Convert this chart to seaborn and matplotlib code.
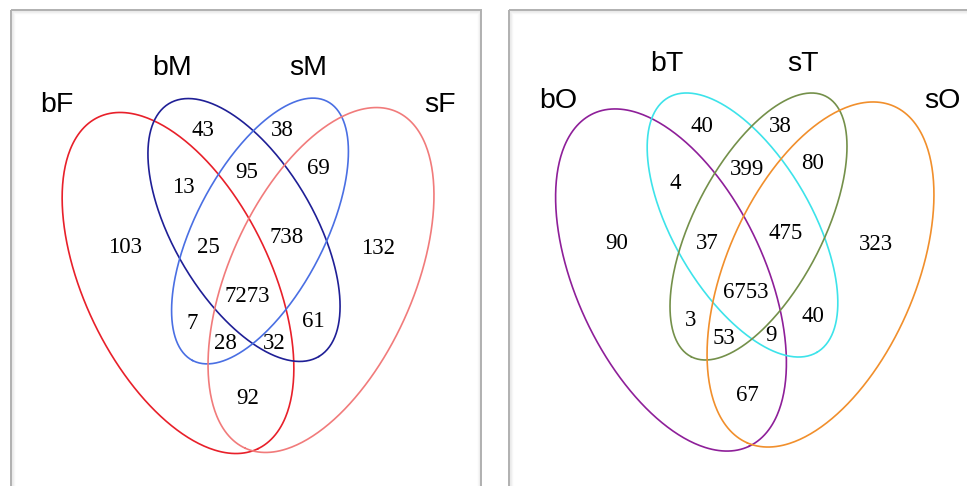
import numpy as np
import pandas as pd
import matplotlib
matplotlib.use("Agg")
import matplotlib.pyplot as plt
from matplotlib.patches import Rectangle
import seaborn as sns

# ---- set names, colours and region counts for the two 4-way Venn diagrams ----
left_sets = ["bF", "bM", "sM", "sF"]
left_colors = ["#e8202a", "#1f1f96", "#4a6fe3", "#f17b7b"]
left_counts = [43, 38, 13, 95, 69, 103, 25, 738, 132, 7273, 7, 61, 28, 32, 92]

right_sets = ["bO", "bT", "sT", "sO"]
right_colors = ["#8e1f99", "#3de3ea", "#74904a", "#f18f2c"]
right_counts = [40, 38, 4, 399, 80, 90, 37, 475, 323, 6753, 3, 40, 53, 9, 67]

# ellipse geometry in pixel space: centre x, centre y, semi-major, semi-minor, angle (deg, y down)
left_shapes = [
    (178, 283, 184, 93, 64.2),
    (244, 230, 147, 70, 59.4),
    (260, 231, 146, 64.5, 117.5),
    (321, 280, 184.5, 92, 114.2),
]
right_shapes = [
    (671, 280, 183.7, 94, 64.9),
    (742.5, 225, 147.5, 69, 59.7),
    (758.5, 226.5, 146.6, 64.5, 117.4),
    (820.5, 274.5, 183.6, 94.5, 113.5),
]

# label anchor positions for the set names and region counts
left_name_pos = [(57, 105), (172, 68), (308, 68), (440, 105)]
right_name_pos = [(558, 101), (667, 64), (803, 64), (942, 101)]
left_count_pos = [(203, 130), (282, 130), (183, 187), (247, 172), (318, 168),
                  (125, 247), (208, 247), (287, 237), (378, 248), (247, 296),
                  (192, 323), (313, 321), (225, 343), (274, 343), (248, 398)]
right_count_pos = [(702, 126), (780, 126), (675, 183), (747, 169), (813, 163),
                   (617, 243), (707, 243), (786, 233), (876, 244), (746, 292),
                   (691, 320), (813, 316), (724, 338), (771, 335), (747, 395)]

sns.set_theme(style="white")
plt.rcParams["font.family"] = ["Liberation Sans", "DejaVu Sans"]

W, H = 967, 486
fig = plt.figure(figsize=(W / 100, H / 100), dpi=100)
ax = fig.add_axes([0, 0, 1, 1])
ax.set_xlim(0, W)
ax.set_ylim(H, 0)
ax.axis("off")

# panel frames with a soft inner shadow
for x0, y0, w in [(10.5, 10.5, 470.5), (508.5, 10.5, 480)]:
    for k, a in enumerate([0.18, 0.10, 0.05]):
        ax.add_patch(Rectangle((x0 + 1 + k, y0 + 1 + k), w - 2 - 2 * k, 500,
                               fill=False, edgecolor="#9a9a9a", alpha=a, lw=1.0))
    ax.add_patch(Rectangle((x0, y0), w, 500, fill=False,
                           edgecolor="#b0b0b0", lw=1.4))


def ellipse_frame(cx, cy, a, b, ang):
    t = np.linspace(0, 2 * np.pi, 400)
    th = np.deg2rad(ang)
    x = cx + a * np.cos(t) * np.cos(th) - b * np.sin(t) * np.sin(th)
    y = cy + a * np.cos(t) * np.sin(th) + b * np.sin(t) * np.cos(th)
    return pd.DataFrame({"x": x, "y": y, "order": np.arange(len(t))})


def draw_venn(names, colors, shapes, name_pos, counts, count_pos):
    for name, col, shp, (nx, ny) in zip(names, colors, shapes, name_pos):
        df = ellipse_frame(*shp)
        sns.lineplot(data=df, x="x", y="y", sort=False, estimator=None,
                     color=col, lw=1.2, ax=ax)
        ax.text(nx, ny, name, fontsize=20.5, ha="center", va="center",
                color="black", family=["Liberation Sans", "DejaVu Sans"])
    for v, (px, py) in zip(counts, count_pos):
        ax.text(px, py, str(v), fontsize=16.5, ha="center", va="center",
                color="black", family=["Liberation Serif", "DejaVu Serif"])


draw_venn(left_sets, left_colors, left_shapes, left_name_pos, left_counts, left_count_pos)
draw_venn(right_sets, right_colors, right_shapes, right_name_pos, right_counts, right_count_pos)

ax.set_xlim(0, W)
ax.set_ylim(H, 0)
ax.set_xlabel("")
ax.set_ylabel("")
fig.savefig("out.png", dpi=100, facecolor="white")
